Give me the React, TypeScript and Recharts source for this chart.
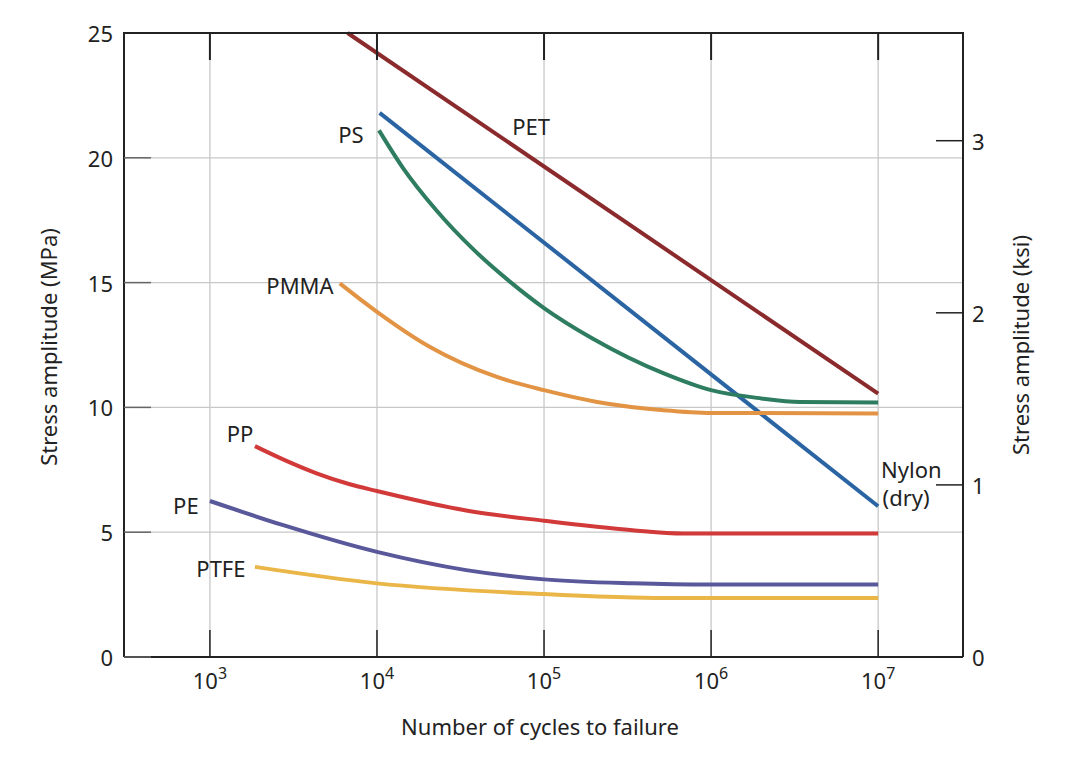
import React from 'react';
import { LineChart, Line, XAxis, YAxis, CartesianGrid, ReferenceDot, Label } from 'recharts';

// cycles to failure (n) vs stress amplitude in MPa (s)
const petN = [6670, 1e7];
const petS = [25, 10.55];

const nylonN = [10370, 1e7];
const nylonS = [21.8, 6.04];

const psN = [10280, 14290, 22650, 37500, 63500, 1e5, 195000, 521000, 1e6, 2e6, 3.4e6, 1e7];
const psS = [21.1, 19.6, 17.9, 16.35, 15.0, 13.98, 12.76, 11.36, 10.69, 10.36, 10.22, 10.2];

const pmmaN = [5990, 1e4, 20650, 51700, 1e5, 208000, 521000, 1e6, 1e7];
const pmmaS = [14.97, 13.83, 12.43, 11.23, 10.69, 10.22, 9.89, 9.78, 9.76];

const ppN = [1860, 2740, 4350, 6870, 1e4, 34200, 1e5, 339000, 680000, 1e7];
const ppS = [8.45, 7.92, 7.36, 6.92, 6.65, 5.87, 5.46, 5.08, 4.95, 4.95];

const peN = [1000, 2750, 1e4, 34200, 1e5, 339000, 1e6, 1e7];
const peS = [6.25, 5.28, 4.21, 3.48, 3.11, 2.95, 2.9, 2.9];

const ptfeN = [1860, 1e4, 1e5, 339000, 600000, 1e6, 1e7];
const ptfeS = [3.61, 2.95, 2.52, 2.38, 2.36, 2.36, 2.36];

const xTicks = [1e3, 1e4, 1e5, 1e6, 1e7];
const mpaTicks = [0, 5, 10, 15, 20, 25];
const ksiTicks = [0, 1, 2, 3];
const MPA_PER_KSI = 6.895;
const MPA_MAX = 25;

const series = [
  { name: 'PET', n: petN, s: petS, color: '#8b2a2c', type: 'linear' },
  { name: 'Nylon', n: nylonN, s: nylonS, color: '#2b64a3', type: 'linear' },
  { name: 'PS', n: psN, s: psS, color: '#2e7d60', type: 'monotone' },
  { name: 'PMMA', n: pmmaN, s: pmmaS, color: '#e29444', type: 'monotone' },
  { name: 'PP', n: ppN, s: ppS, color: '#d23a3a', type: 'monotone' },
  { name: 'PE', n: peN, s: peS, color: '#58589a', type: 'monotone' },
  { name: 'PTFE', n: ptfeN, s: ptfeS, color: '#eab648', type: 'monotone' },
];

// label anchors, in data units
const notes = [
  { text: 'PET', n: 83600, s: 21.27 },
  { text: 'PS', n: 6980, s: 20.95 },
  { text: 'PMMA', n: 3460, s: 14.9 },
  { text: 'PP', n: 1513, s: 8.97 },
  { text: 'PE', n: 718, s: 6.09 },
  { text: 'PTFE', n: 1164, s: 3.57 },
  { text: 'Nylon', n: 1.58e7, s: 7.53 },
  { text: '(dry)', n: 1.47e7, s: 6.41 },
];

const FONT = '"Noto Sans", sans-serif';
const INK = '#222';
const W = 1076;
const H = 776;
const TOP = 33;
const LEFT_W = 124;
const RIGHT_W = 113;
const BOTTOM_H = 119;

const BottomTick = (p: any) => {
  const exp = Math.round(Math.log10(p.payload.value));
  return (
    <g>
      <line x1={p.x} x2={p.x} y1={p.y} y2={p.y - 27} stroke={INK} strokeWidth={1.5} />
      <text x={p.x} y={p.y + 32} textAnchor="middle" fontFamily={FONT} fontSize={22} fill={INK}>
        10<tspan dy={-10} fontSize={16}>{exp}</tspan>
      </text>
    </g>
  );
};

// inward tick hanging from the top frame
const TopTickShape = (p: any) => (
  <rect x={p.cx - 1} y={p.cy} width={2} height={27} fill={INK} />
);

const LeftTick = (p: any) => (
  <g>
    <line x1={p.x} x2={p.x + 27} y1={p.y} y2={p.y} stroke="#666" strokeWidth={1.5} />
    <text x={p.x - 11} y={p.y} textAnchor="end" dominantBaseline="central" fontFamily={FONT} fontSize={22} fill={INK}>
      {p.payload.value}
    </text>
  </g>
);

const RightTick = (p: any) => (
  <g>
    <line x1={p.x} x2={p.x - 27} y1={p.y} y2={p.y} stroke={INK} strokeWidth={1.5} />
    <text x={p.x + 9} y={p.y} textAnchor="start" dominantBaseline="central" fontFamily={FONT} fontSize={22} fill={INK}>
      {p.payload.value}
    </text>
  </g>
);

const NoteShape = (text: string) => (p: any) => (
  <text x={p.cx} y={p.cy} textAnchor="middle" dominantBaseline="central" fontFamily={FONT} fontSize={22} fill={INK}>
    {text}
  </text>
);

const axisLine = { stroke: INK, strokeWidth: 2 };

export default function App() {
  return (
    <div style={{ position: 'absolute', left: 0, top: 0, width: W, height: H, background: '#fff' }}>
      <LineChart width={W} height={H} margin={{ top: TOP, right: 0, bottom: 0, left: 0 }}>
        <CartesianGrid yAxisId="mpa" stroke="#c8c8c8" strokeWidth={1.3} />
        <XAxis
          dataKey="n"
          type="number"
          scale="log"
          domain={[306, 3.22e7]}
          allowDataOverflow
          ticks={xTicks}
          interval={0}
          height={BOTTOM_H}
          tickSize={0}
          tickMargin={0}
          tickLine={false}
          axisLine={axisLine}
          tick={<BottomTick />}
        >
          <Label
            content={() => (
              <text x={540} y={735} textAnchor="middle" fontFamily={FONT} fontSize={22} fill={INK}>
                Number of cycles to failure
              </text>
            )}
          />
        </XAxis>
        <YAxis
          yAxisId="mpa"
          type="number"
          domain={[0, MPA_MAX]}
          ticks={mpaTicks}
          interval={0}
          width={LEFT_W}
          tickSize={0}
          tickMargin={0}
          tickLine={false}
          axisLine={axisLine}
          tick={<LeftTick />}
        >
          <Label
            content={() => (
              <text x={48} y={347} transform="rotate(-90 48 347)" textAnchor="middle" dominantBaseline="central" fontFamily={FONT} fontSize={22} fill={INK}>
                Stress amplitude (MPa)
              </text>
            )}
          />
        </YAxis>
        <YAxis
          yAxisId="ksi"
          orientation="right"
          type="number"
          domain={[0, MPA_MAX / MPA_PER_KSI]}
          allowDataOverflow
          ticks={ksiTicks}
          interval={0}
          width={RIGHT_W}
          tickSize={0}
          tickMargin={0}
          tickLine={false}
          axisLine={axisLine}
          tick={<RightTick />}
        >
          <Label
            content={() => (
              <text x={1020} y={345} transform="rotate(-90 1020 345)" textAnchor="middle" dominantBaseline="central" fontFamily={FONT} fontSize={22} fill={INK}>
                Stress amplitude (ksi)
              </text>
            )}
          />
        </YAxis>
        {series.map((sr) => (
          <Line
            key={sr.name}
            yAxisId="mpa"
            data={sr.n.map((n, i) => ({ n, s: sr.s[i] }))}
            dataKey="s"
            type={sr.type as any}
            stroke={sr.color}
            strokeWidth={4}
            dot={false}
            activeDot={false}
            isAnimationActive={false}
          />
        ))}
        {xTicks.map((t) => (
          <ReferenceDot
            key={`top-${t}`}
            yAxisId="mpa"
            x={t}
            y={MPA_MAX}
            r={1}
            ifOverflow="visible"
            shape={TopTickShape}
          />
        ))}
        {notes.map((nt) => (
          <ReferenceDot
            key={nt.text}
            yAxisId="mpa"
            x={nt.n}
            y={nt.s}
            r={0}
            shape={NoteShape(nt.text)}
          />
        ))}
      </LineChart>
      {/* top frame edge */}
      <div
        style={{
          position: 'absolute',
          left: LEFT_W - 1,
          top: TOP - 1,
          width: W - LEFT_W - RIGHT_W + 2,
          height: 0,
          borderTop: `2px solid ${INK}`,
          pointerEvents: 'none',
        }}
      />
    </div>
  );
}
